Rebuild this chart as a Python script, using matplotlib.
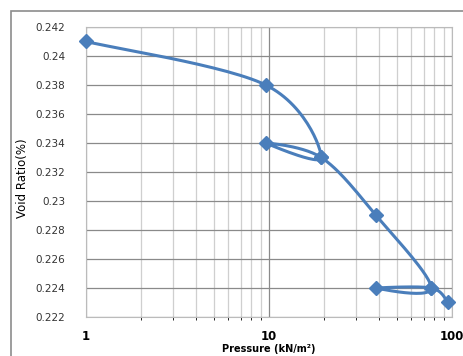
import numpy as np
import matplotlib.pyplot as plt
from matplotlib.patches import Rectangle

pressure = [1, 9.6, 19.3, 9.6, 19.3, 38.5, 77, 38.5, 77, 95]
void_ratio = [0.241, 0.238, 0.233, 0.234, 0.233, 0.229, 0.224, 0.224, 0.224, 0.223]
y_ticks = [0.222, 0.224, 0.226, 0.228, 0.23, 0.232, 0.234, 0.236, 0.238, 0.24, 0.242]
y_labels = ["0.222", "0.224", "0.226", "0.228", "0.23", "0.232", "0.234", "0.236", "0.238", "0.24", "0.242"]
x_ticks = [1, 10, 100]
x_labels = ["1", "10", "100"]

fig = plt.figure(figsize=(4.64, 3.56), dpi=100)
fig.patch.set_facecolor("white")
fig.patches.append(Rectangle((11 / 464, -0.1), 1.2, 1 - 11 / 356 + 0.1, transform=fig.transFigure,
                             fill=False, edgecolor="#8c8c8c", linewidth=1.2))
ax = fig.add_axes([86 / 464, 1 - 317 / 356, 366 / 464, 290 / 356])
ax.set_xscale("log")
ax.set_xlim(1, 100)
ax.set_ylim(0.222, 0.242)

# Excel-style smoothed line, computed in screen-ish coordinates
W, H = 366.0, 290.0
u = np.log10(pressure) / 2 * W
v = (np.array(void_ratio) - 0.222) / 0.02 * H
P = np.column_stack([u, v])
n = len(P)
curve = []
t = np.linspace(0, 1, 30)
for i in range(n - 1):
    p0 = P[max(i - 1, 0)]
    p1 = P[i]
    p2 = P[i + 1]
    p3 = P[min(i + 2, n - 1)]
    c1 = p1 + (p2 - p0) / 6
    c2 = p2 - (p3 - p1) / 6
    seg = ((1 - t) ** 3)[:, None] * p1 + (3 * (1 - t) ** 2 * t)[:, None] * c1 \
        + (3 * (1 - t) * t ** 2)[:, None] * c2 + (t ** 3)[:, None] * p2
    curve.append(seg)
curve = np.vstack(curve)
cx = 10 ** (curve[:, 0] / W * 2)
cy = curve[:, 1] / H * 0.02 + 0.222

ax.plot(cx, cy, color="#4a7ebb", linewidth=2.2, zorder=3, clip_on=False)
ax.plot(pressure, void_ratio, linestyle="none", marker="D", markersize=7,
        color="#4a7ebb", zorder=4, clip_on=False)

ax.set_yticks(y_ticks)
ax.set_yticklabels(y_labels, fontsize=7.5, color="#333333")
ax.set_xticks(x_ticks)
ax.set_xticklabels(x_labels, fontsize=8.5, fontweight="bold")
ax.tick_params(axis="both", length=0)
ax.tick_params(axis="x", pad=9)
ax.tick_params(axis="y", pad=15)
ax.grid(True, which="major", color="#8a8a8a", linewidth=0.9)
ax.grid(True, which="minor", axis="x", color="#cfcfcf", linewidth=0.9)
for s in ax.spines.values():
    s.set_color("#bbbbbb")
ax.set_xlabel("Pressure (kN/m²)", fontsize=7, fontweight="bold")
ax.xaxis.set_label_coords(0.5, (317 - 344) / 290)
ax.set_ylabel("Void Ratio(%)", fontsize=8.5)
ax.yaxis.set_label_coords((29 - 86) / 366, 0.48)

plt.savefig("out.png", dpi=100)
